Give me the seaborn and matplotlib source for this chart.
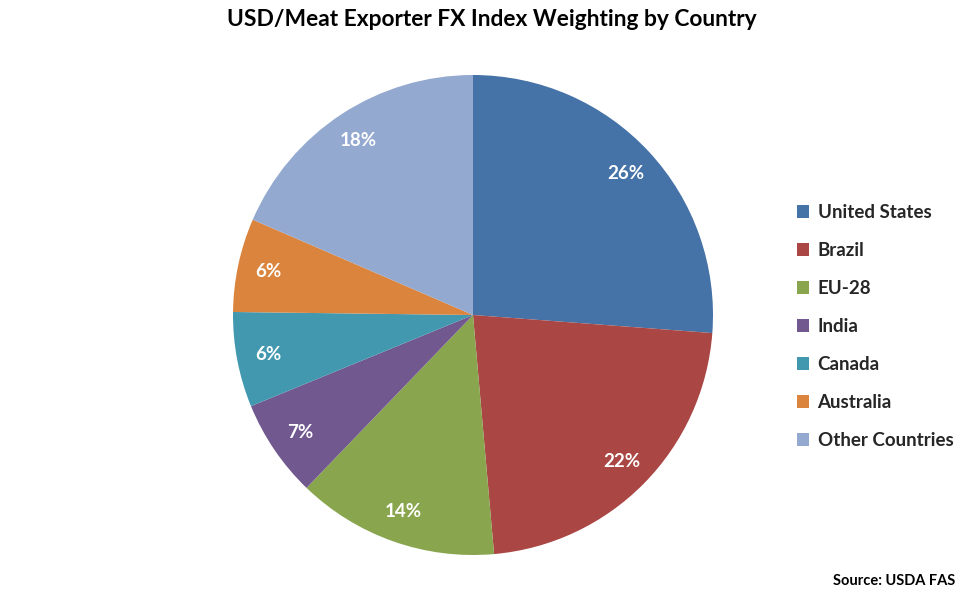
import numpy as np
import matplotlib
matplotlib.use('Agg')
import matplotlib.pyplot as plt
from matplotlib.patches import Patch
import seaborn as sns

countries = ['United States', 'Brazil', 'EU-28', 'India', 'Canada', 'Australia', 'Other Countries']
weights = [26.2, 22.4, 13.6, 6.6, 6.4, 6.3, 18.5]
colors = ['#4572A7', '#AA4643', '#89A54E', '#71588F', '#4198AF', '#DB843D', '#93A9CF']

sns.set_theme(style='white')
plt.rcParams['font.family'] = ['Lato', 'DejaVu Sans']
palette = sns.color_palette(colors)

fig = plt.figure(figsize=(9.75, 6), dpi=100)
# pie centre ~ (473, 315) px, radius ~ 240 px
ax = fig.add_axes([(473 - 240) / 975, (600 - 315 - 240) / 600, 480 / 975, 480 / 600])
wedges, texts, autotexts = ax.pie(
    weights,
    colors=palette,
    startangle=90,
    counterclock=False,
    autopct='%.0f%%',
    pctdistance=0.87,
    wedgeprops=dict(linewidth=0),
    textprops=dict(color='white', fontsize=13.5, fontweight='bold'),
)
ax.set_xlim(-1, 1)
ax.set_ylim(-1, 1)
ax.set_aspect('equal')

fig.text(492 / 975, 1 - 19 / 600, 'USD/Meat Exporter FX Index Weighting by Country',
         ha='center', va='center', fontsize=16.4, fontweight='bold', color='black')

handles = [Patch(facecolor=c, edgecolor='none') for c in palette]
leg = fig.legend(handles, countries, loc='upper left',
                 bbox_to_anchor=(780 / 975, 1 - 187 / 600),
                 frameon=False, handlelength=0.65, handleheight=0.65,
                 handletextpad=0.45, labelspacing=1.12,
                 prop=dict(size=13.5, weight='bold'))

fig.text(955 / 975, 1 - 581 / 600, 'Source: USDA FAS', ha='right', va='center',
         fontsize=10.5, fontweight='bold', color='black')

fig.savefig('out.png', dpi=100)
